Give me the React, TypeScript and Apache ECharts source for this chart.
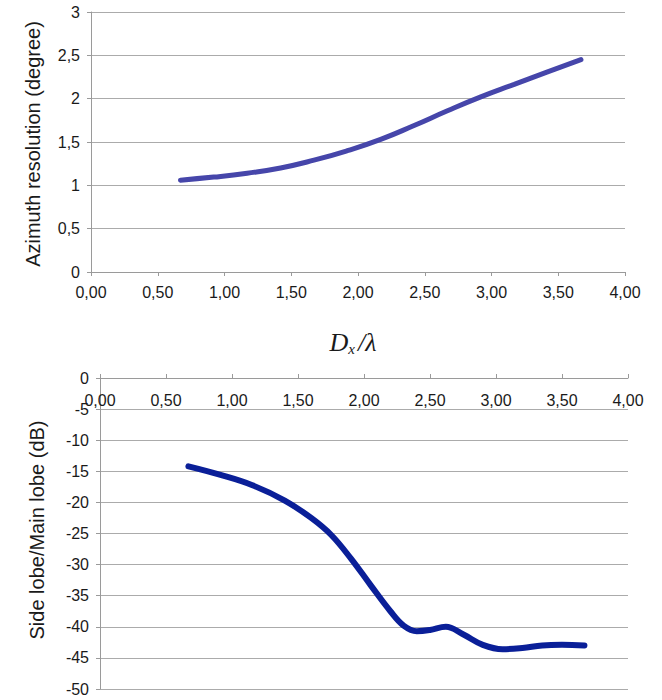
import React, { useEffect, useRef } from "react";
import * as echarts from "echarts";

// Azimuth resolution versus antenna length in wavelengths
const resolutionX = [0.67, 0.92, 1.17, 1.42, 1.67, 1.92, 2.17, 2.42, 2.67, 2.92, 3.17, 3.42, 3.67];
const resolutionDeg = [1.06, 1.095, 1.14, 1.2, 1.29, 1.4, 1.53, 1.69, 1.86, 2.02, 2.165, 2.31, 2.45];

// Side-lobe to main-lobe ratio versus antenna length in wavelengths
const lobeX = [0.67, 0.9, 1.15, 1.4, 1.6, 1.75, 1.9, 2.05, 2.2, 2.3, 2.4, 2.5, 2.62, 2.75, 2.9, 3.05, 3.2, 3.35, 3.5, 3.67];
const lobeDb = [-14.2, -15.5, -17.2, -19.7, -22.5, -25.2, -29.0, -33.3, -37.5, -39.8, -40.7, -40.5, -40.0, -41.2, -42.9, -43.6, -43.4, -43.0, -42.9, -43.0];

const topYName = "Azimuth resolution (degree)";
const bottomYName = "Side lobe/Main lobe (dB)";

const FONT = "'Liberation Sans', Arial, Helvetica, sans-serif";
const SERIF = "'Liberation Serif', 'DejaVu Serif', serif";
const GRID_COLOR = "#ababab";
const AXIS_COLOR = "#9a9a9a";
const TEXT_COLOR = "#1a1a1a";

const comma = (v: number, digits?: number) =>
  (digits === undefined ? String(v) : v.toFixed(digits)).replace(".", ",");

export default function App() {
  const ref = useRef<HTMLDivElement>(null);

  useEffect(() => {
    if (!ref.current) return;
    const chart = echarts.init(ref.current, undefined, { renderer: "svg" });

    const label = { color: TEXT_COLOR, fontFamily: FONT, fontSize: 16 };
    const axisLine = { show: true, lineStyle: { color: AXIS_COLOR, width: 1 } };
    const axisTick = { show: true, length: 4, lineStyle: { color: AXIS_COLOR } };
    const splitLine = { show: true, lineStyle: { color: GRID_COLOR, width: 1 } };

    chart.setOption({
      animation: false,
      backgroundColor: "#ffffff",
      grid: [
        { left: 91, top: 12, width: 534, height: 260 },
        { left: 100, top: 378, width: 528, height: 311 },
      ],
      xAxis: [
        {
          type: "value",
          gridIndex: 0,
          min: 0,
          max: 4,
          interval: 0.5,
          axisLine,
          axisTick,
          splitLine: { show: false },
          axisLabel: { ...label, margin: 12, formatter: (v: number) => comma(v, 2) },
        },
        {
          type: "value",
          gridIndex: 1,
          position: "top",
          min: 0,
          max: 4,
          interval: 0.5,
          axisLine,
          axisTick,
          splitLine: { show: false },
          axisLabel: { ...label, inside: true, margin: 14, formatter: (v: number) => comma(v, 2) },
        },
      ],
      yAxis: [
        {
          type: "value",
          gridIndex: 0,
          min: 0,
          max: 3,
          interval: 0.5,
          axisLine,
          axisTick,
          splitLine,
          axisLabel: { ...label, margin: 11, formatter: (v: number) => comma(v) },
        },
        {
          type: "value",
          gridIndex: 1,
          min: -50,
          max: 0,
          interval: 5,
          axisLine,
          axisTick,
          splitLine,
          axisLabel: { ...label, margin: 11, formatter: (v: number) => comma(v) },
        },
      ],
      series: [
        {
          type: "line",
          xAxisIndex: 0,
          yAxisIndex: 0,
          data: resolutionX.map((x, i) => [x, resolutionDeg[i]]),
          smooth: 0.5,
          showSymbol: false,
          lineStyle: { color: "#4646aa", width: 5, cap: "round" },
        },
        {
          type: "line",
          xAxisIndex: 1,
          yAxisIndex: 1,
          data: lobeX.map((x, i) => [x, lobeDb[i]]),
          smooth: 0.4,
          showSymbol: false,
          lineStyle: { color: "#0a1f98", width: 6, cap: "round" },
        },
      ],
      graphic: [
        {
          type: "text",
          x: 33,
          y: 144,
          rotation: Math.PI / 2,
          style: {
            text: topYName,
            fill: TEXT_COLOR,
            font: `20px ${FONT}`,
            align: "center",
            verticalAlign: "middle",
          },
        },
        {
          type: "text",
          x: 37,
          y: 530,
          rotation: Math.PI / 2,
          style: {
            text: bottomYName,
            fill: TEXT_COLOR,
            font: `20px ${FONT}`,
            align: "center",
            verticalAlign: "middle",
          },
        },
        {
          type: "text",
          x: 353,
          y: 342,
          style: {
            text: "{d|D}{s|x}{d|/λ}",
            align: "center",
            verticalAlign: "middle",
            rich: {
              d: {
                fontFamily: SERIF,
                fontStyle: "italic",
                fontSize: 26,
                lineHeight: 28,
                fill: TEXT_COLOR,
                verticalAlign: "middle",
              },
              s: {
                fontFamily: SERIF,
                fontStyle: "italic",
                fontSize: 15,
                lineHeight: 14,
                fill: TEXT_COLOR,
                verticalAlign: "bottom",
                padding: [0, 3, 0, 0],
              },
            },
          },
        },
      ],
    });

    return () => chart.dispose();
  }, []);

  return (
    <div
      ref={ref}
      style={{ position: "fixed", left: 0, top: 0, width: 662, height: 700, background: "#fff" }}
    />
  );
}
